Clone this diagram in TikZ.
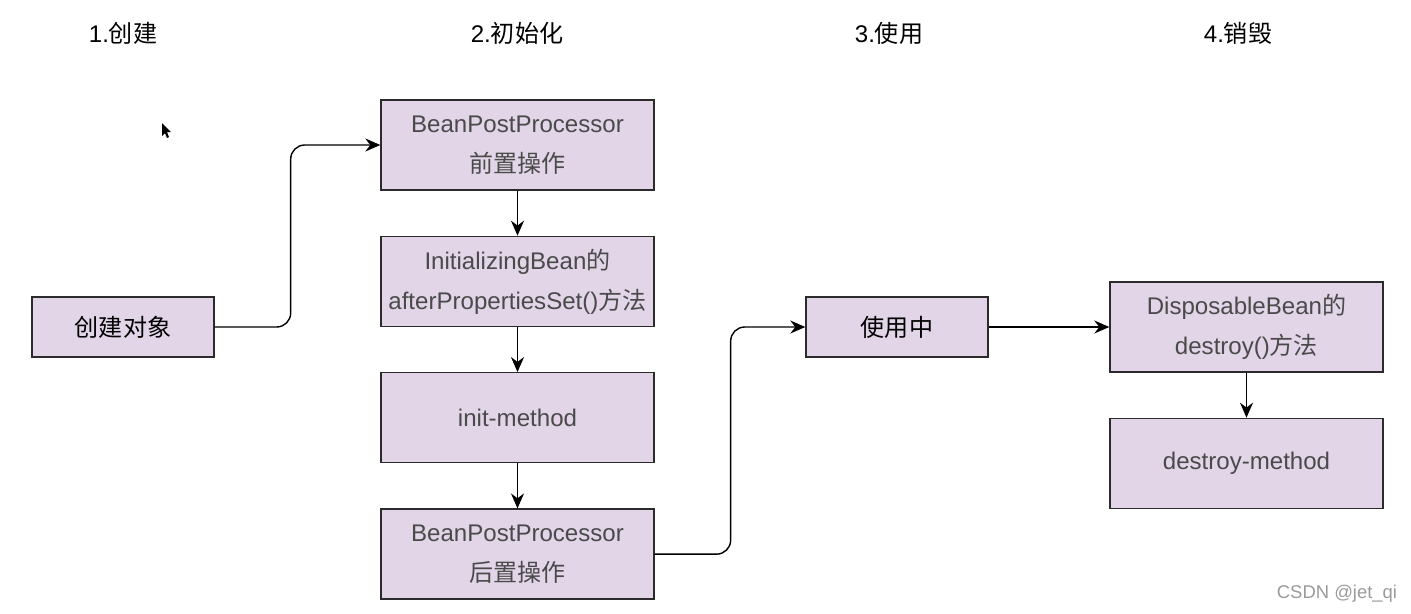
\documentclass[tikz,border=0pt]{standalone}
\usepackage{fontspec}
\setmainfont{Liberation Sans}
\newfontfamily\cjk{Noto Sans CJK SC}
\usetikzlibrary{arrows.meta, positioning}
\definecolor{boxfill}{HTML}{E1D5E7}
\definecolor{boxline}{HTML}{2B2B2B}
\definecolor{boxtext}{HTML}{4A4A4A}
\definecolor{wmark}{HTML}{9A9A9A}

\tikzset{
  stage/.style={font=\fontsize{13.7}{16}\selectfont, text=black},
  proc/.style={draw=boxline, fill=boxfill, line width=0.8pt, align=center,
    minimum width=5.46cm, minimum height=1.8cm, inner sep=0pt,
    font=\fontsize{13.7}{22.8}\selectfont, text=boxtext},
  small/.style={proc, minimum width=3.64cm, minimum height=1.2cm, text=black},
  link/.style={->, line width=0.8pt, rounded corners=8pt}
}

\begin{document}
\begin{tikzpicture}[x=0.02cm, y=-0.02cm, >={Stealth[length=3mm, width=2.6mm]}]

% Canvas
\useasboundingbox (0,0) rectangle (1411,613);

% Stage titles
\node[stage] (t1) at (123,33) {1.{\cjk 创建}};
\node[stage] (t2) at (517,33) {2.{\cjk 初始化}};
\node[stage] (t3) at (889,33) {3.{\cjk 使用}};
\node[stage] (t4) at (1238,33) {4.{\cjk 销毁}};

% Mouse pointer (screenshot artifact)
\fill[black] (162,123) -- (162,136) -- (165,133) -- (167,138) -- (169,137)
  -- (167,132) -- (171,132) -- cycle;

% 1. create
\node[small] (create) at (123,327) {\cjk 创建对象};

% 2. init
\node[proc] (pre) at (517.5,145) {BeanPostProcessor\\{\cjk 前置操作}};
\node[proc, below=0.9cm of pre] (afterset) {InitializingBean{\cjk 的}\\afterPropertiesSet(){\cjk 方法}};
\node[proc, below=0.9cm of afterset] (initm) {init-method};
\node[proc, below=0.9cm of initm] (post) {BeanPostProcessor\\{\cjk 后置操作}};

% 3. use
\node[small] (inuse) at (897,327) {\cjk 使用中};

% 4. destroy
\node[proc] (dispose) at (1246.5,327) {DisposableBean{\cjk 的}\\destroy(){\cjk 方法}};
\node[proc, below=0.9cm of dispose] (destroym) {destroy-method};

% Connectors
\draw[link] (create.east) -- ++(76,0) |- (pre.west);
\draw[link] (pre) -- (afterset);
\draw[link] (afterset) -- (initm);
\draw[link] (initm) -- (post);
\draw[link] (post.east) -- ++(76,0) |- (inuse.west);
\draw[link] (inuse) -- (dispose);
\draw[link] (dispose) -- (destroym);

% Watermark
\node[font=\fontsize{10.5}{12}\selectfont, text=wmark] (wm) at (1337,594) {CSDN @jet\_qi};

\end{tikzpicture}
\end{document}
